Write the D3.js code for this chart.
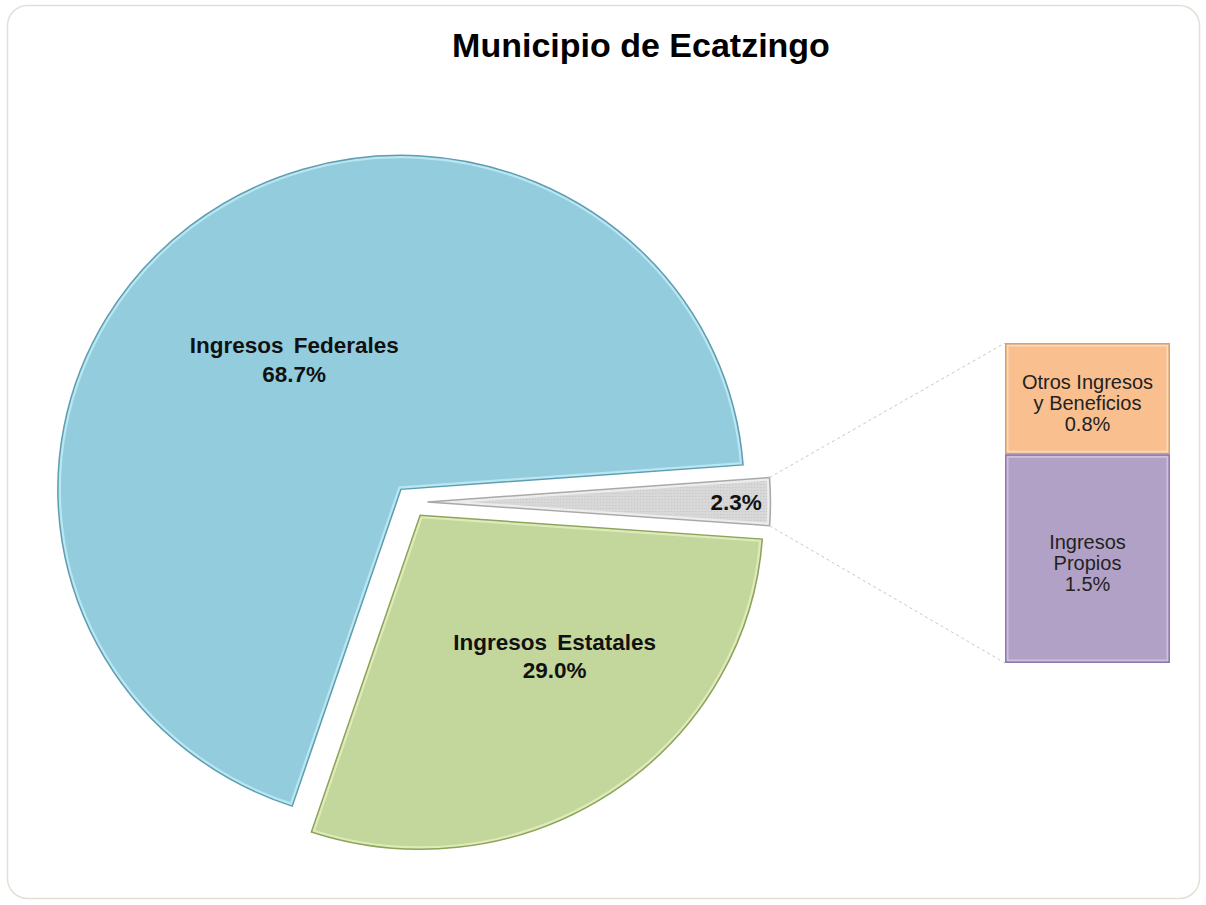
<!DOCTYPE html>
<html lang="es">
	<head>
		<meta charset="utf-8">
		<title>Municipio de Ecatzingo</title>
		<script src="https://d3js.org/d3.v7.min.js"></script>
		<style type="text/css">
			body { margin: 0; background: #fff; }
			text { font-family: Arial, "Liberation Sans", sans-serif; }
		</style>
	</head>
	<body>
		<script type="text/javascript">

			//Data
			var pieCats = ["Otros", "Ingresos Estatales", "Ingresos Federales"];
			var barCats = ["Otros Ingresos y Beneficios", "Ingresos Propios"];
			var barValues = [0.8, 1.5];
			var pieValues = [d3.sum(barValues), 29.0, 68.7];
			var pieLabels = [["2.3%"], ["Ingresos Estatales", "29.0%"], ["Ingresos Federales", "68.7%"]];
			var barLabels = [["Otros Ingresos", "y Beneficios", "0.8%"], ["Ingresos", "Propios", "1.5%"]];

			var pieFill  = ["#d8d8d8", "#c3d69b", "#93cddd"];
			var pieLight = ["#f2f2f2", "#e4f0c0", "#c2ecf6"];
			var pieDark  = ["#a9a9a9", "#8ea35c", "#5f9db2"];
			var barFill  = ["#f9bf8f", "#b2a1c7"];
			var barDark  = ["#d8a070", "#8d79ad"];
			var barLight = ["#fcd9bb", "#cdc0dd"];

			//Width and height
			var w = 1206;
			var h = 905;
			var cx = 411, cy = 502, r = 334, sx = 1.027, explode = 16;
			var startDeg = 85.8;
			var labelR = [0.9, 0.576, 0.498];
			var labelShift = [0, -9.2, -0.8];

			var svg = d3.select("body")
						.append("svg")
						.attr("width", w)
						.attr("height", h);

			var defs = svg.append("defs");

			//dotted texture for the "other" slice
			var pat = defs.append("pattern")
				.attr("id", "dots")
				.attr("width", 3).attr("height", 3)
				.attr("patternUnits", "userSpaceOnUse");
			pat.append("rect").attr("width", 3).attr("height", 3).attr("fill", pieFill[0]);
			pat.append("rect").attr("width", 1).attr("height", 1).attr("fill", "#c4c4c4");

			//chart area frame
			svg.append("rect")
				.attr("x", 7.5).attr("y", 5.5)
				.attr("width", 1192).attr("height", 893)
				.attr("rx", 20)
				.attr("fill", "#fff")
				.attr("stroke", "#e2e0d6")
				.attr("stroke-width", 1.5);

			svg.append("text")
				.attr("x", 641)
				.attr("y", 57)
				.attr("text-anchor", "middle")
				.attr("font-size", 34)
				.attr("font-weight", "bold")
				.attr("fill", "#000")
				.text("Municipio de Ecatzingo");

			var rad = Math.PI / 180;
			var pie = d3.pie().sort(null)
				.startAngle(startDeg * rad)
				.endAngle(startDeg * rad + 2 * Math.PI);
			var arcs = pie(pieValues);

			var arc = d3.arc().innerRadius(0).outerRadius(r);

			function offset(d) {
				var a = (d.startAngle + d.endAngle) / 2;
				return [Math.sin(a) * explode, -Math.cos(a) * explode];
			}

			var pieG = svg.append("g")
				.attr("transform", "translate(" + cx + "," + cy + ") scale(" + sx + ",1)");

			var slices = pieG.selectAll("g.slice")
				.data(arcs)
				.enter()
				.append("g")
				.attr("class", "slice")
				.attr("transform", function(d) {
					var o = offset(d);
					return "translate(" + o[0] + "," + o[1] + ")";
				});

			slices.each(function(d, i) {
				var g = d3.select(this);
				defs.append("clipPath").attr("id", "clip" + i)
					.append("path").attr("d", arc(d));
				g.append("path")
					.attr("d", arc(d))
					.attr("fill", i == 0 ? "url(#dots)" : pieFill[i]);
				g.append("path")
					.attr("d", arc(d))
					.attr("fill", "none")
					.attr("stroke", pieLight[i])
					.attr("stroke-width", 6)
					.attr("stroke-opacity", 0.8)
					.attr("clip-path", "url(#clip" + i + ")");
				g.append("path")
					.attr("d", arc(d))
					.attr("fill", "none")
					.attr("stroke", pieDark[i])
					.attr("stroke-width", 1.5);
			});

			//slice labels (drawn unscaled)
			arcs.forEach(function(d, i) {
				var o = offset(d);
				var a = (d.startAngle + d.endAngle) / 2 + labelShift[i] * rad;
				var lr = r * labelR[i];
				var x = cx + (o[0] + Math.sin(a) * lr) * sx;
				var y = cy + o[1] - Math.cos(a) * lr;
				var lines = pieLabels[i];
				var lh = 28.5;
				var t = svg.append("text")
					.attr("text-anchor", "middle")
					.attr("font-size", 22.5)
					.attr("font-weight", "bold")
					.attr("word-spacing", 4)
					.attr("fill", "#111");
				lines.forEach(function(s, k) {
					t.append("tspan")
						.attr("x", x)
						.attr("y", y + 8 + (k - (lines.length - 1) / 2) * lh)
						.text(s);
				});
			});

			//bar of pie
			var bx = 1005, bw = 165;
			var yScale = d3.scaleLinear()
				.domain([0, d3.sum(barValues)])
				.range([343, 663]);
			var stack = [];
			var acc = 0;
			barValues.forEach(function(v, i) {
				stack.push({ y0: acc, y1: acc + v, i: i });
				acc += v;
			});

			//connector lines
			var other = arcs[0];
			var o0 = offset(other);
			function corner(a) {
				return [cx + (o0[0] + Math.sin(a) * r) * sx, cy + o0[1] - Math.cos(a) * r];
			}
			var conn = [[corner(other.startAngle), [bx, yScale(0)]],
						[corner(other.endAngle), [bx, yScale(d3.sum(barValues))]]];
			svg.selectAll("line.conn")
				.data(conn)
				.enter()
				.append("line")
				.attr("class", "conn")
				.attr("x1", function(d) { return d[0][0]; })
				.attr("y1", function(d) { return d[0][1]; })
				.attr("x2", function(d) { return d[1][0]; })
				.attr("y2", function(d) { return d[1][1]; })
				.attr("stroke", "#c8c8c8")
				.attr("stroke-width", 1)
				.attr("stroke-dasharray", "3,3");

			var bars = svg.selectAll("g.bar")
				.data(stack)
				.enter()
				.append("g")
				.attr("class", "bar");

			bars.append("rect")
				.attr("x", bx)
				.attr("y", function(d) { return yScale(d.y0); })
				.attr("width", bw)
				.attr("height", function(d) { return yScale(d.y1) - yScale(d.y0); })
				.attr("fill", function(d) { return barFill[d.i]; });
			bars.append("rect")
				.attr("x", bx + 2.5)
				.attr("y", function(d) { return yScale(d.y0) + 2.5; })
				.attr("width", bw - 5)
				.attr("height", function(d) { return yScale(d.y1) - yScale(d.y0) - 5; })
				.attr("fill", "none")
				.attr("stroke", function(d) { return barLight[d.i]; })
				.attr("stroke-width", 2);
			bars.append("rect")
				.attr("x", bx + 0.75)
				.attr("y", function(d) { return yScale(d.y0) + 0.75; })
				.attr("width", bw - 1.5)
				.attr("height", function(d) { return yScale(d.y1) - yScale(d.y0) - 1.5; })
				.attr("fill", "none")
				.attr("stroke", function(d) { return barDark[d.i]; })
				.attr("stroke-width", 1.5);

			bars.each(function(d) {
				var lines = barLabels[d.i];
				var mid = (yScale(d.y0) + yScale(d.y1)) / 2;
				var lh = 21;
				var t = d3.select(this).append("text")
					.attr("text-anchor", "middle")
					.attr("font-size", 20)
					.attr("fill", "#222");
				lines.forEach(function(s, k) {
					t.append("tspan")
						.attr("x", bx + bw / 2)
						.attr("y", mid + 11 + (k - (lines.length - 1) / 2) * lh)
						.text(s);
				});
			});

		</script>
	</body>
</html>
